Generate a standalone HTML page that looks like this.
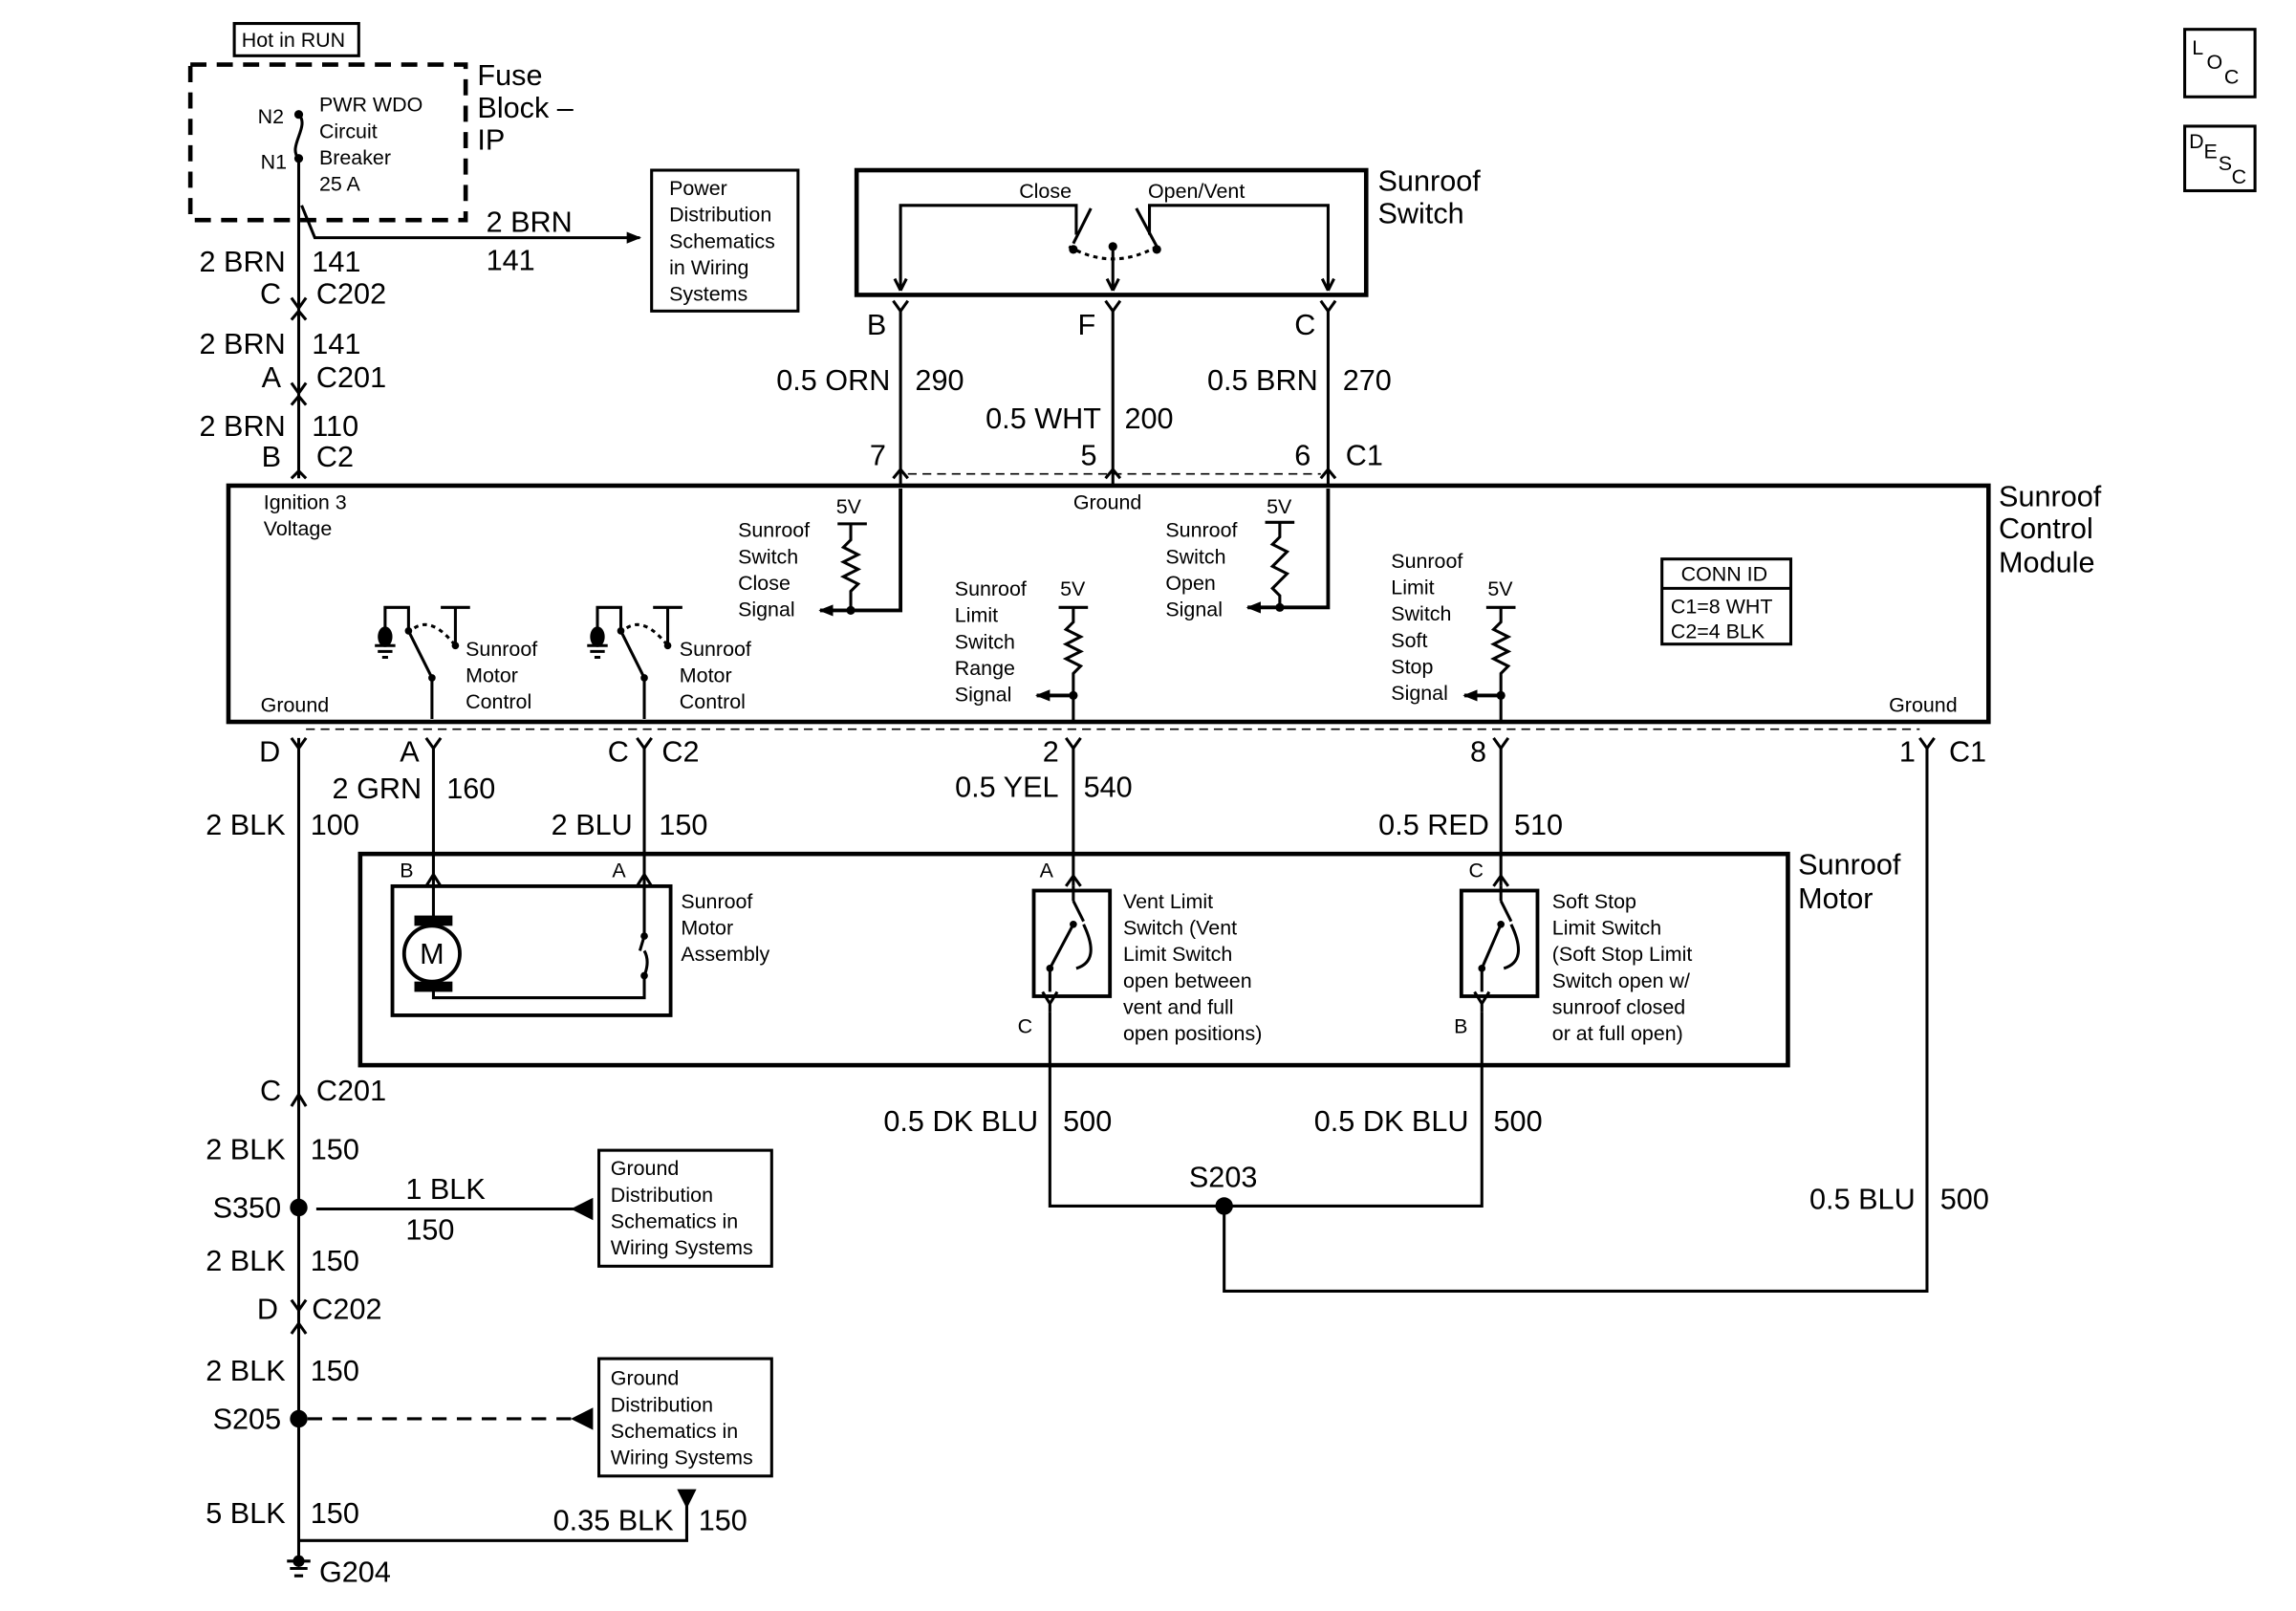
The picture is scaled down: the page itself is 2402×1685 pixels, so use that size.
<!DOCTYPE html>
<html><head><meta charset="utf-8"><style>
html,body{margin:0;padding:0;background:#fff;}
svg{display:block}
text{font-family:"Liberation Sans",Arial,sans-serif;fill:#000}
.b{font-size:20px}
.s{font-size:14px}
</style></head><body>
<svg width="2402" height="1685" viewBox="0 0 1568 1098" preserveAspectRatio="none" xmlns="http://www.w3.org/2000/svg">
<defs>
<marker id="ar" markerWidth="10" markerHeight="10" refX="9" refY="5" orient="auto" markerUnits="userSpaceOnUse"><path d="M0,1 L10,5 L0,9 z" fill="#000"/></marker>
</defs>
<g stroke="#000" fill="none" stroke-width="2">
<rect x="160" y="16" width="85" height="22"/>
<rect x="130" y="44" width="188" height="106" stroke-width="3" stroke-dasharray="11,7"/>
<path d="M204,78 C212,86 196,100 204,108"/>
<line x1="204" y1="108" x2="204" y2="326"/>
<line x1="204" y1="503" x2="204" y2="1062"/>
<path d="M206,140 L215,162 L437,162" marker-end="url(#ar)"/>
<rect x="445" y="116" width="100" height="96"/>
<path d="M199,203 L204,210 L209,203 M199,218 L204,212 L209,218"/>
<path d="M199,261 L204,268 L209,261 M199,276 L204,270 L209,276"/>
<path d="M199,326 L204,321 L209,326"/>
<rect x="585" y="116" width="348" height="85" stroke-width="3"/>
<path d="M615,198 L615,140 L735,140 L735,160" />
<path d="M907,198 L907,140 L785,140 L785,160"/>
<path d="M615,198 l-4,-8 M615,198 l4,-8 M907,198 l-4,-8 M907,198 l4,-8"/>
<path d="M745,142 L733,166 M776,142 L790,168"/>
<path d="M730,168 Q760,185 790,168" stroke-dasharray="3,3"/>
<line x1="760" y1="168" x2="760" y2="198"/>
<path d="M760,198 l-4,-8 M760,198 l4,-8"/>
<path d="M610,205 L615,212 L620,205 M755,205 L760,212 L765,205 M902,205 L907,212 L912,205"/>
<line x1="615" y1="212" x2="615" y2="330"/>
<line x1="760" y1="212" x2="760" y2="330"/>
<line x1="907" y1="212" x2="907" y2="330"/>
<path d="M610,326 L615,320 L620,326 M755,326 L760,320 L765,326 M902,326 L907,320 L912,326"/>
<line x1="620" y1="323" x2="902" y2="323" stroke-dasharray="6,4" stroke-width="1"/>
<rect x="156" y="331" width="1202" height="161" stroke-width="3"/>
<path d="M615,333 L615,416 L560,416" marker-end="url(#ar)" stroke-width="2.5"/>
<path d="M572,357 L592,357 M581,357 L581,368 l-5,5 l10,5 l-10,5 l10,5 l-10,5 l10,5 l-5,5 L581,416"/>
<path d="M907,333 L907,414 L852,414" marker-end="url(#ar)" stroke-width="2.5"/>
<path d="M864,356 L884,356 M874,356 L874,366 l-5,5 l10,5 l-5,5 l-5,5 l10,5 l-5,5 l-5,5 l5,5 L874,414"/>
<path d="M723,414 L743,414 M733,414 L733,424 l-5,5 l10,5 l-10,5 l10,5 l-10,5 l10,5 l-5,5 L733,492"/>
<path d="M733,474 L708,474" marker-end="url(#ar)" stroke-width="2.5"/>
<path d="M1015,414 L1035,414 M1025,414 L1025,424 l-5,5 l10,5 l-10,5 l10,5 l-10,5 l10,5 l-5,5 L1025,492"/>
<path d="M1025,474 L1000,474" marker-end="url(#ar)" stroke-width="2.5"/>
<path d="M263,434 L263,414 L279,414 L279,428 M301,414 L321,414 M311,414 L311,440"/>
<path d="M283,428 Q295,420 311,440" stroke-dasharray="3,3"/>
<path d="M279,430 L295,462 L295,490"/>
<path d="M408,434 L408,414 L424,414 L424,428 M446,414 L466,414 M456,414 L456,440"/>
<path d="M428,428 Q440,420 456,440" stroke-dasharray="3,3"/>
<path d="M424,430 L440,462 L440,490"/>
<path d="M256,440 L270,440 M258,444 L268,444 M261,448 L265,448 M401,440 L415,440 M403,444 L413,444 M406,448 L410,448"/>
<path d="M199,503 L204,510 L209,503 M291,503 L296,510 L301,503 M435,503 L440,510 L445,503 M728,503 L733,510 L738,503 M1020,503 L1025,510 L1030,503 M1311,503 L1316,510 L1321,503"/>
<line x1="209" y1="497" x2="1311" y2="497" stroke-dasharray="6,4" stroke-width="1"/>
<line x1="296" y1="510" x2="296" y2="604"/>
<line x1="440" y1="510" x2="440" y2="604"/>
<line x1="733" y1="510" x2="733" y2="604"/>
<line x1="1025" y1="510" x2="1025" y2="604"/>
<path d="M1316,510 L1316,880 L836,880 L836,822"/>
<rect x="246" y="582" width="975" height="144" stroke-width="3"/>
<rect x="268" y="604" width="190" height="88" stroke-width="2.5"/>
<path d="M291,604 L296,596 L301,604 M435,604 L440,596 L445,604"/>
<path d="M296,604 L296,626 M296,674 L296,680 L440,680 L440,665 M440,604 L440,638"/>
<path d="M440,638 L437,648 M440,665 Q444,655 440,648" />
<circle cx="295" cy="650" r="19" stroke-width="2.5"/>
<rect x="284" y="625" width="24" height="5" fill="#000"/>
<rect x="284" y="670" width="24" height="5" fill="#000"/>
<rect x="706" y="607" width="52" height="72" stroke-width="2.5"/>
<path d="M728,604 L733,597 L738,604 M733,604 L733,614 M733,614 L740,628 M733,630 L717,660 L717,676 M740,630 Q752,655 735,660" />
<path d="M712,676 L717,684 L722,676 M717,684 L717,690"/>
<rect x="998" y="607" width="52" height="72" stroke-width="2.5"/>
<path d="M1020,604 L1025,597 L1030,604 M1025,604 L1025,614 M1025,614 L1032,628 M1025,630 L1012,660 L1012,676 M1032,630 Q1044,655 1027,660"/>
<path d="M1007,676 L1012,684 L1017,676 M1012,684 L1012,690"/>
<path d="M717,690 L717,822 L1012,822 L1012,690"/>
<path d="M199,754 L204,746 L209,754"/>
<path d="M216,824 L400,824" />
<path d="M404,818 L392,824 L404,830 z" fill="#000"/>
<rect x="409" y="784" width="118" height="79"/>
<path d="M199,886 L204,893 L209,886 M199,909 L204,902 L209,909"/>
<line x1="210" y1="967" x2="395" y2="967" stroke-dasharray="10,7"/>
<path d="M404,961 L392,967 L404,973 z" fill="#000"/>
<rect x="409" y="926" width="118" height="80"/>
<path d="M204,1050 L469,1050 L469,1024"/>
<path d="M464,1016 L474,1016 L469,1026 z" fill="#000"/>
<path d="M196,1064 L212,1064 M198,1069 L210,1069 M201,1074 L207,1074"/>
<rect x="1135" y="381" width="88" height="58"/>
<line x1="1135" y1="401" x2="1223" y2="401"/>
<rect x="1492" y="20" width="48" height="46"/>
<rect x="1492" y="86" width="48" height="44"/>
</g>
<g fill="#000">
<circle cx="204" cy="78" r="3"/><circle cx="204" cy="108" r="3"/>
<circle cx="204" cy="823" r="6"/><circle cx="204" cy="967" r="6"/><circle cx="836" cy="822" r="6"/>
<circle cx="204" cy="1064" r="4"/>
<circle cx="733" cy="170" r="3"/><circle cx="760" cy="168" r="3"/><circle cx="790" cy="170" r="3"/>
<circle cx="581" cy="416" r="3"/><circle cx="874" cy="414" r="3"/><circle cx="733" cy="474" r="3"/><circle cx="1025" cy="474" r="3"/>
<ellipse cx="263" cy="434" rx="5" ry="7"/><ellipse cx="408" cy="434" rx="5" ry="7"/>
<circle cx="279" cy="430" r="2.5"/><circle cx="311" cy="440" r="2.5"/><circle cx="295" cy="462" r="2.5"/>
<circle cx="424" cy="430" r="2.5"/><circle cx="456" cy="440" r="2.5"/><circle cx="440" cy="462" r="2.5"/>
<circle cx="440" cy="638" r="2.5"/><circle cx="440" cy="665" r="2.5"/>
<circle cx="733" cy="630" r="2.5"/><circle cx="717" cy="660" r="2.5"/><circle cx="1025" cy="630" r="2.5"/><circle cx="1012" cy="660" r="2.5"/>
</g>
<g class="s">
<text x="165" y="32">Hot in RUN</text>
<text x="176" y="84">N2</text><text x="178" y="115">N1</text>
<text x="218" y="76">PWR WDO</text><text x="218" y="94">Circuit</text><text x="218" y="112">Breaker</text><text x="218" y="130">25 A</text>
<text x="457" y="133">Power</text><text x="457" y="151">Distribution</text><text x="457" y="169">Schematics</text><text x="457" y="187">in Wiring</text><text x="457" y="205">Systems</text>
<text x="696" y="135">Close</text><text x="784" y="135">Open/Vent</text>
<text x="180" y="347">Ignition 3</text><text x="180" y="365">Voltage</text>
<text x="571" y="350">5V</text>
<text x="504" y="366">Sunroof</text><text x="504" y="384">Switch</text><text x="504" y="402">Close</text><text x="504" y="420">Signal</text>
<text x="733" y="347">Ground</text>
<text x="865" y="350">5V</text>
<text x="796" y="366">Sunroof</text><text x="796" y="384">Switch</text><text x="796" y="402">Open</text><text x="796" y="420">Signal</text>
<text x="652" y="406">Sunroof</text><text x="652" y="424">Limit</text><text x="652" y="442">Switch</text><text x="652" y="460">Range</text><text x="652" y="478">Signal</text>
<text x="724" y="406">5V</text>
<text x="950" y="387">Sunroof</text><text x="950" y="405">Limit</text><text x="950" y="423">Switch</text><text x="950" y="441">Soft</text><text x="950" y="459">Stop</text><text x="950" y="477">Signal</text>
<text x="1016" y="406">5V</text>
<text x="1148" y="396">CONN ID</text><text x="1141" y="418">C1=8 WHT</text><text x="1141" y="435">C2=4 BLK</text>
<text x="318" y="447">Sunroof</text><text x="318" y="465">Motor</text><text x="318" y="483">Control</text>
<text x="464" y="447">Sunroof</text><text x="464" y="465">Motor</text><text x="464" y="483">Control</text>
<text x="178" y="485">Ground</text><text x="1290" y="485">Ground</text>
<text x="273" y="598">B</text><text x="418" y="598">A</text><text x="710" y="598">A</text><text x="1003" y="598">C</text>
<text x="465" y="619">Sunroof</text><text x="465" y="637">Motor</text><text x="465" y="655">Assembly</text>
<text x="767" y="619">Vent Limit</text><text x="767" y="637">Switch (Vent</text><text x="767" y="655">Limit Switch</text><text x="767" y="673">open between</text><text x="767" y="691">vent and full</text><text x="767" y="709">open positions)</text>
<text x="1060" y="619">Soft Stop</text><text x="1060" y="637">Limit Switch</text><text x="1060" y="655">(Soft Stop Limit</text><text x="1060" y="673">Switch open w/</text><text x="1060" y="691">sunroof closed</text><text x="1060" y="709">or at full open)</text>
<text x="695" y="704">C</text><text x="993" y="704">B</text>
<text x="417" y="801">Ground</text><text x="417" y="819">Distribution</text><text x="417" y="837">Schematics in</text><text x="417" y="855">Wiring Systems</text>
<text x="417" y="944">Ground</text><text x="417" y="962">Distribution</text><text x="417" y="980">Schematics in</text><text x="417" y="998">Wiring Systems</text>
<text x="1497" y="37">L</text><text x="1507" y="47">O</text><text x="1519" y="57">C</text>
<text x="1495" y="101">D</text><text x="1505" y="108">E</text><text x="1515" y="116">S</text><text x="1524" y="125">C</text>
</g>
<g class="b">
<text x="295" y="657" text-anchor="middle">M</text>
<text x="326" y="58">Fuse</text><text x="326" y="80">Block –</text><text x="326" y="102">IP</text>
<text x="332" y="158">2 BRN</text><text x="332" y="184">141</text>
<text x="195" y="185" text-anchor="end">2 BRN</text><text x="213" y="185">141</text>
<text x="192" y="207" text-anchor="end">C</text><text x="216" y="207">C202</text>
<text x="195" y="241" text-anchor="end">2 BRN</text><text x="213" y="241">141</text>
<text x="192" y="264" text-anchor="end">A</text><text x="216" y="264">C201</text>
<text x="195" y="297" text-anchor="end">2 BRN</text><text x="213" y="297">110</text>
<text x="192" y="318" text-anchor="end">B</text><text x="216" y="318">C2</text>
<text x="941" y="130">Sunroof</text><text x="941" y="152">Switch</text>
<text x="592" y="228">B</text><text x="736" y="228">F</text><text x="884" y="228">C</text>
<text x="608" y="266" text-anchor="end">0.5 ORN</text><text x="625" y="266">290</text>
<text x="752" y="292" text-anchor="end">0.5 WHT</text><text x="768" y="292">200</text>
<text x="900" y="266" text-anchor="end">0.5 BRN</text><text x="917" y="266">270</text>
<text x="594" y="317">7</text><text x="738" y="317">5</text><text x="884" y="317">6</text><text x="919" y="317">C1</text>
<text x="1365" y="345">Sunroof</text><text x="1365" y="367">Control</text><text x="1365" y="390">Module</text>
<text x="177" y="519">D</text><text x="273" y="519">A</text><text x="415" y="519">C</text><text x="452" y="519">C2</text>
<text x="712" y="519">2</text><text x="1004" y="519">8</text><text x="1297" y="519">1</text><text x="1331" y="519">C1</text>
<text x="288" y="544" text-anchor="end">2 GRN</text><text x="305" y="544">160</text>
<text x="195" y="569" text-anchor="end">2 BLK</text><text x="212" y="569">100</text>
<text x="432" y="569" text-anchor="end">2 BLU</text><text x="450" y="569">150</text>
<text x="723" y="543" text-anchor="end">0.5 YEL</text><text x="740" y="543">540</text>
<text x="1017" y="569" text-anchor="end">0.5 RED</text><text x="1034" y="569">510</text>
<text x="1228" y="596">Sunroof</text><text x="1228" y="619">Motor</text>
<text x="192" y="750" text-anchor="end">C</text><text x="216" y="750">C201</text>
<text x="195" y="790" text-anchor="end">2 BLK</text><text x="212" y="790">150</text>
<text x="192" y="830" text-anchor="end">S350</text>
<text x="277" y="817">1 BLK</text><text x="277" y="845">150</text>
<text x="195" y="866" text-anchor="end">2 BLK</text><text x="212" y="866">150</text>
<text x="190" y="899" text-anchor="end">D</text><text x="213" y="899">C202</text>
<text x="195" y="941" text-anchor="end">2 BLK</text><text x="212" y="941">150</text>
<text x="192" y="974" text-anchor="end">S205</text>
<text x="195" y="1038" text-anchor="end">5 BLK</text><text x="212" y="1038">150</text>
<text x="460" y="1043" text-anchor="end">0.35 BLK</text><text x="477" y="1043">150</text>
<text x="218" y="1078">G204</text>
<text x="709" y="771" text-anchor="end">0.5 DK BLU</text><text x="726" y="771">500</text>
<text x="1003" y="771" text-anchor="end">0.5 DK BLU</text><text x="1020" y="771">500</text>
<text x="812" y="809">S203</text>
<text x="1308" y="824" text-anchor="end">0.5 BLU</text><text x="1325" y="824">500</text>
</g>
</svg>
</body></html>
